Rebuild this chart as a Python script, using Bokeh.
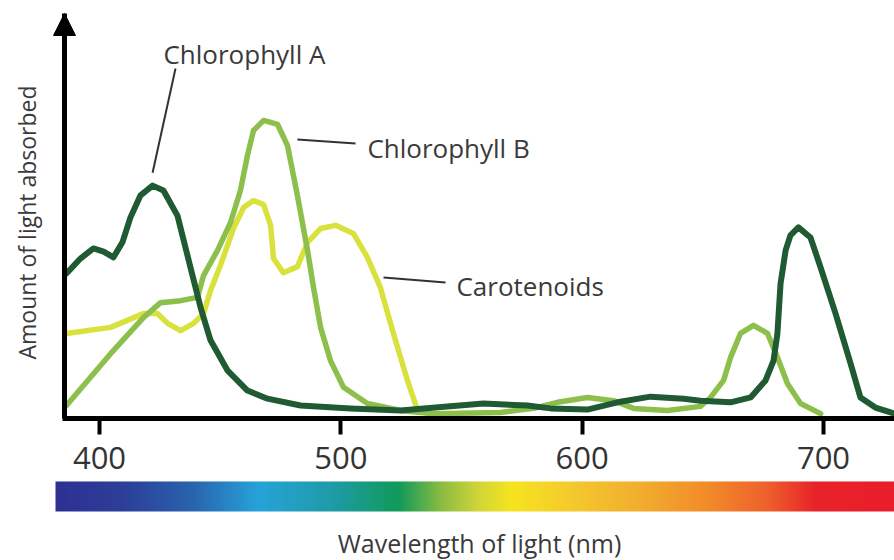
import numpy as np
from bokeh.plotting import figure
from bokeh.models import FixedTicker, Arrow, NormalHead, Range1d
from bokeh.embed import file_html
from bokeh.resources import INLINE
from bokeh.core.properties import value

# ---------------- data ----------------
chl_a_nm = [386.3, 392.1, 397.5, 401.7, 405.8, 409.5, 412.8, 417.0, 422.0, 426.5,
            432.3, 437.7, 441.9, 446.0, 453.0, 461.3, 469.6, 483.3, 504.0, 524.7,
            545.4, 559.1, 577.3, 586.9, 602.2, 614.6, 628.3, 642.0, 649.0, 661.5,
            669.8, 676.0, 679.3, 680.9, 682.2, 684.3, 686.3, 689.6, 694.6, 698.8,
            705.0, 711.2, 715.3, 721.5, 729.4]
chl_a_abs = [35.8, 39.5, 42.0, 41.2, 39.8, 43.5, 49.6, 55.1, 57.5, 56.3,
             50.1, 37.3, 27.4, 19.3, 11.9, 6.9, 4.9, 3.2, 2.5, 2.0,
             3.0, 3.7, 3.2, 2.5, 2.2, 4.0, 5.4, 4.9, 4.4, 4.0,
             5.2, 9.4, 14.3, 21.0, 33.3, 41.5, 45.2, 47.2, 44.7, 37.3,
             25.9, 13.6, 5.2, 2.7, 1.2]

chl_b_nm = [386.3, 404.6, 418.2, 425.3, 433.6, 440.6, 443.1, 448.9, 454.3, 458.4,
            461.3, 463.8, 468.0, 473.8, 477.9, 482.0, 486.2, 488.7, 491.6, 495.7,
            501.1, 511.0, 524.7, 538.4, 566.2, 579.8, 589.8, 602.2, 613.0, 621.3,
            635.4, 649.0, 653.2, 658.6, 661.5, 665.6, 671.0, 676.8, 680.9, 685.1,
            690.5, 698.8]
chl_b_abs = [3.2, 16.0, 24.9, 28.6, 29.1, 29.9, 35.3, 41.5, 48.4, 56.3,
             64.9, 71.1, 73.6, 72.6, 67.4, 55.1, 41.5, 32.3, 22.5, 14.3,
             7.7, 3.7, 2.0, 1.2, 1.5, 2.5, 4.0, 5.2, 4.4, 2.5,
             2.0, 3.0, 5.2, 9.4, 15.1, 21.0, 23.0, 21.0, 15.1, 8.6,
             3.7, 1.2]

carot_nm = [386.3, 404.6, 418.2, 424.0, 428.2, 433.6, 439.0, 443.1, 446.0, 450.1,
            455.5, 459.7, 463.8, 468.0, 470.9, 472.1, 476.2, 482.0, 486.2, 491.6,
            497.8, 505.2, 511.0, 516.4, 521.8, 527.6, 531.8]
carot_abs = [21.0, 22.5, 25.9, 25.9, 23.5, 21.7, 23.5, 25.9, 31.6, 37.8,
             46.9, 52.1, 53.8, 52.8, 47.7, 39.5, 36.0, 37.5, 43.5, 46.9,
             47.7, 45.7, 39.8, 32.3, 21.0, 9.4, 2.0]

x_ticks = [400, 500, 600, 700]
series_names = ["Chlorophyll A", "Chlorophyll B", "Carotenoids"]
x_title = "Wavelength of light (nm)"
y_title = "Amount of light absorbed"

# ---------------- style / layout ----------------
FONT = "Open Sans"
TEXT_COL = "#3a3a3a"
COL_A, COL_B, COL_C = "#1f5a33", "#8dbf4c", "#d9e23c"
X_LEFT, X_MAX = 358.98, 729.42   # wavelength span of the whole canvas
X_START = 385.5                  # where the plotted domain (y axis) starts
BAR_START = 381.77               # left end of the spectrum strip
Y0, Y1 = 0, 100                  # absorbance axis
Y_TOP, Y_BOTTOM = 103.21, -35.06 # canvas extent in absorbance units
BAR_Y0, BAR_H = -22.96, 7.41     # spectrum strip placement
TITLE_Y = -30.8
YLAB_X, YLAB_Y = 369.96, 48.4

p = figure(frame_width=894, frame_height=560,
           x_range=Range1d(X_LEFT, X_MAX), y_range=Range1d(Y_BOTTOM, Y_TOP),
           output_backend="svg", toolbar_location=None,
           min_border_left=0, min_border_right=0, min_border_top=0,
           min_border_bottom=0)
p.outline_line_color = None
p.xgrid.visible = False
p.ygrid.visible = False
p.background_fill_color = "white"
p.border_fill_color = "white"

# x axis, drawn at absorbance 0
xa = p.xaxis[0]
xa.fixed_location = Y0
xa.ticker = FixedTicker(ticks=x_ticks)
xa.bounds = (X_START - 1.0, X_MAX)
xa.axis_line_width = 5
xa.axis_line_color = "black"
xa.major_tick_line_width = 4
xa.major_tick_line_color = "black"
xa.major_tick_out = 16
xa.major_tick_in = 0
xa.minor_tick_out = 0
xa.minor_tick_in = 0
xa.major_label_text_font = FONT
xa.major_label_text_font_size = "31px"
xa.major_label_text_color = "#333333"
xa.major_label_standoff = 12

# y axis line, drawn at the start of the domain
ya = p.yaxis[0]
ya.fixed_location = X_START
ya.bounds = (Y0, Y1)
ya.ticker = FixedTicker(ticks=[])
ya.axis_line_width = 5
ya.axis_line_color = "black"
ya.major_tick_out = 0
ya.major_tick_in = 0
ya.minor_tick_out = 0
ya.minor_tick_in = 0

# y axis title
p.text(x=[YLAB_X], y=[YLAB_Y], text=[y_title], angle=np.pi / 2, text_font=value(FONT),
       text_font_size="23px", text_color=TEXT_COL, text_baseline="middle", text_align="center")

# arrow head on the y axis
p.add_layout(Arrow(end=NormalHead(size=22, fill_color="black", line_color="black", line_width=1),
                   x_start=X_START, y_start=Y1 - 8, x_end=X_START, y_end=Y1,
                   line_color="black", line_width=5))

# curves
for xs, ys, col, w in [(carot_nm, carot_abs, COL_C, 5.5),
                       (chl_b_nm, chl_b_abs, COL_B, 5.5),
                       (chl_a_nm, chl_a_abs, COL_A, 6)]:
    p.line(xs, ys, line_color=col, line_width=w, line_join="round", line_cap="round")

# labels with leader lines
lab_x = [426.5, 511.0, 547.9]
lab_y = [89.9, 66.9, 32.8]
lead_x0 = [431.5, 482.0, 517.7]
lead_y0 = [86.4, 68.9, 34.8]
lead_x1 = [422.0, 506.1, 543.4]
lead_y1 = [60.7, 67.9, 33.6]
p.segment(x0=lead_x0, y0=lead_y0, x1=lead_x1, y1=lead_y1, line_color="#333333", line_width=2)
p.text(x=lab_x, y=lab_y, text=series_names, text_font=value(FONT), text_font_size="26px",
       text_color=TEXT_COL, text_baseline="middle", text_align="left")

# ---------------- spectrum strip + x title ----------------
stops_f = [0.0, 0.08, 0.16, 0.241, 0.33, 0.408, 0.46, 0.5, 0.542, 0.62, 0.70, 0.78, 0.85, 0.905, 1.0]
stops_c = ["#2e3192", "#2c3f99", "#2a62ad", "#27a3d9", "#1f9ba8", "#119a5a", "#8dbd42",
           "#cdd43a", "#f6e520", "#f4c82e", "#f2ac2e", "#f28a2a", "#ee5f2c", "#e9232a", "#e81e2a"]
N = 840
t = np.linspace(0, 1, N)
rgb = np.array([[int(c[i:i + 2], 16) for i in (1, 3, 5)] for c in stops_c], dtype=float)
img = np.empty((1, N), dtype=np.uint32)
view = img.view(dtype=np.uint8).reshape((1, N, 4))
for k in range(3):
    view[0, :, k] = np.interp(t, stops_f, rgb[:, k]).astype(np.uint8)
view[0, :, 3] = 255
p.image_rgba(image=[img], x=BAR_START, y=BAR_Y0, dw=X_MAX - BAR_START, dh=BAR_H)

p.text(x=[(X_START + X_MAX) / 2], y=[TITLE_Y], text=[x_title], text_font=value(FONT),
       text_font_size="25px", text_color=TEXT_COL, text_baseline="middle", text_align="center")

open("out.html", "w").write(file_html(p, INLINE))
